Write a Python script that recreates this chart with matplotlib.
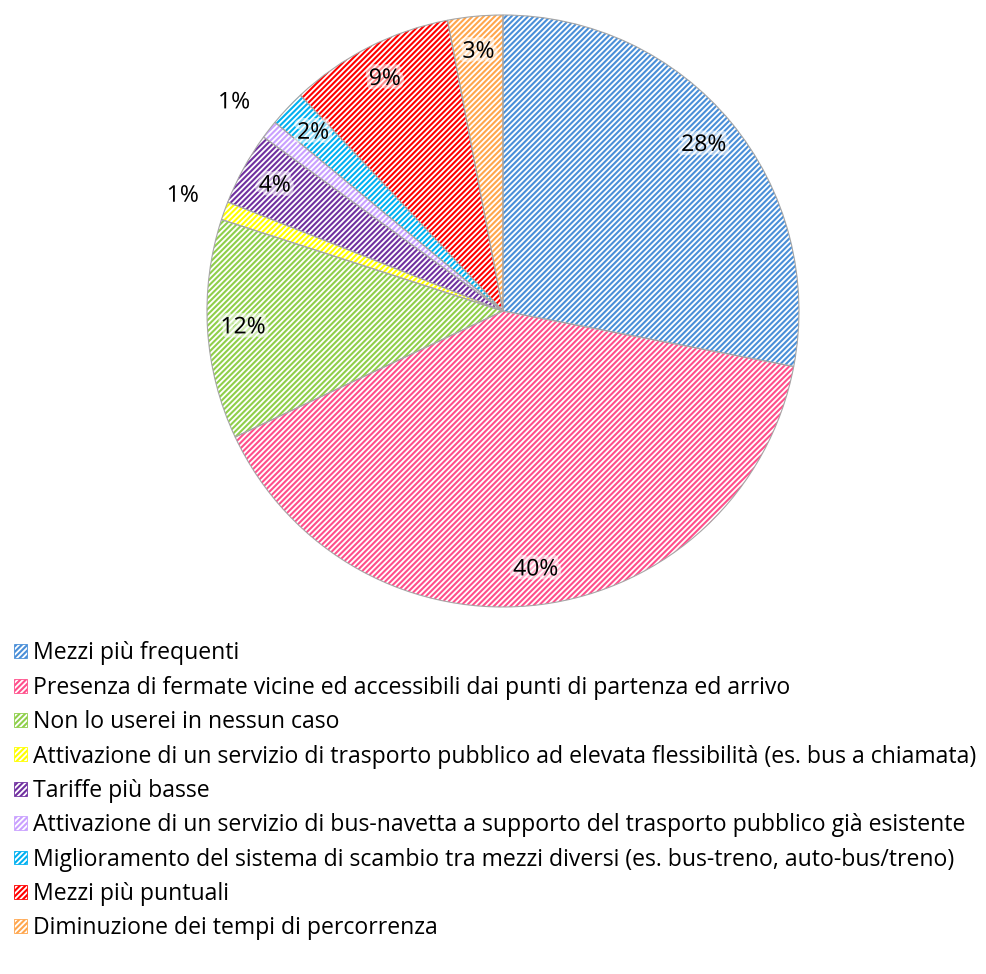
import matplotlib
matplotlib.use("Agg")
import matplotlib.pyplot as plt
import matplotlib.patheffects as pe
from matplotlib.patches import Patch
import numpy as np

plt.rcParams['font.family'] = ['Open Sans', 'DejaVu Sans']
plt.rcParams['hatch.linewidth'] = 1.5

categorie = [
    "Mezzi più frequenti",
    "Presenza di fermate vicine ed accessibili dai punti di partenza ed arrivo",
    "Non lo userei in nessun caso",
    "Attivazione di un servizio di trasporto pubblico ad elevata flessibilità (es. bus a chiamata)",
    "Tariffe più basse",
    "Attivazione di un servizio di bus-navetta a supporto del trasporto pubblico già esistente",
    "Miglioramento del sistema di scambio tra mezzi diversi (es. bus-treno, auto-bus/treno)",
    "Mezzi più puntuali",
    "Diminuzione dei tempi di percorrenza",
]
percentuali = [28, 40, 12, 1, 4, 1, 2, 9, 3]
colori = ["#4a8fd8", "#ff4f8b", "#8fcf4a", "#ffff00", "#7030a0",
          "#c9a0ff", "#00b0f0", "#ff0000", "#ffa64d"]

fig = plt.figure(figsize=(9.87, 9.74), dpi=100)
ax = fig.add_axes([0.2097, 0.3768, 0.5998, 0.6078])

# fette tratteggiate: fondo bianco, righe colorate
fette, _ = ax.pie(percentuali, colors=['white'] * len(percentuali), startangle=90,
                  counterclock=False, radius=1.0,
                  wedgeprops=dict(linewidth=0))
for w, c in zip(fette, colori):
    w.set_edgecolor(c)
    w.set_hatch('//////')

# bordi grigi
ax.pie(percentuali, colors=['none'] * len(percentuali), startangle=90,
       counterclock=False, radius=1.0,
       wedgeprops=dict(linewidth=0.8, edgecolor='#a6a6a6', facecolor='none'))

alone = [pe.withStroke(linewidth=6, foreground='white', alpha=0.55)]
for w, v in zip(fette, percentuali):
    ang = np.deg2rad((w.theta1 + w.theta2) / 2)
    r = 0.88 if v >= 2 else 1.15
    ax.text(r * np.cos(ang), r * np.sin(ang), f"{v}%", ha='center', va='center',
            fontsize=16.5, color='black', path_effects=alone)

ax.set_xlim(-1, 1)
ax.set_ylim(-1, 1)
ax.set_aspect('equal')
ax.axis('off')

maniglie = [Patch(facecolor='white', edgecolor=c, hatch='//////', linewidth=0.6)
            for c in colori]
fig.legend(maniglie, categorie, loc='upper left', bbox_to_anchor=(-0.002, 0.358),
           frameon=False, fontsize=16.6, handlelength=0.55, handleheight=0.55,
           handletextpad=0.28, labelspacing=0.45, borderpad=0.2)

fig.savefig('out.png', dpi=100)
